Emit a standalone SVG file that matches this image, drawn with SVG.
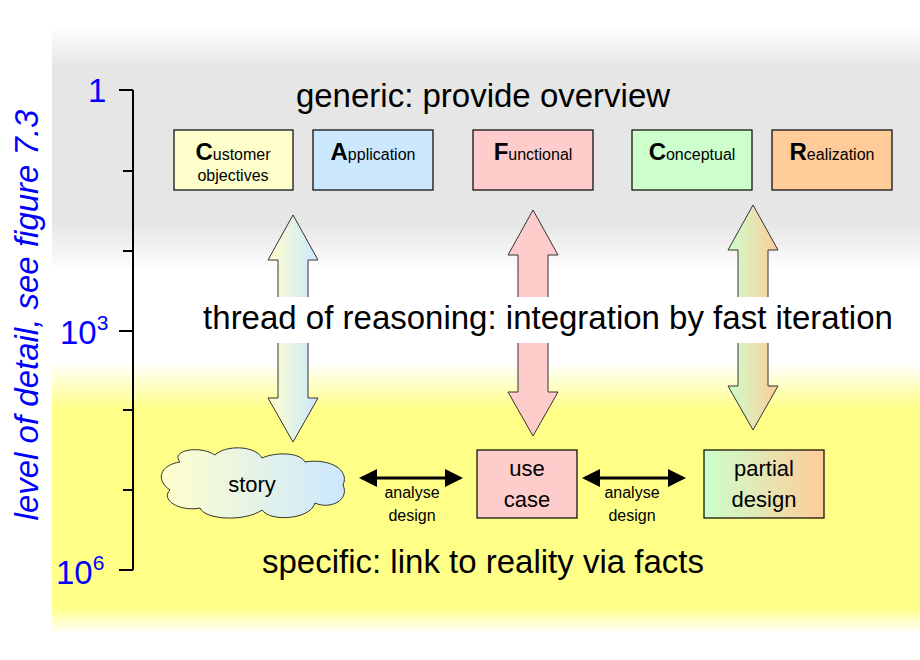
<svg xmlns="http://www.w3.org/2000/svg" width="920" height="660" viewBox="0 0 920 660">
<defs>
<linearGradient id="bgG" x1="0" y1="0" x2="0" y2="1">
<stop offset="0.04" stop-color="#fff"/><stop offset="0.1" stop-color="#e6e6e6"/><stop offset="0.34" stop-color="#e6e6e6"/><stop offset="0.41" stop-color="#fff"/>
<stop offset="0.55" stop-color="#fff"/><stop offset="0.62" stop-color="#ffff88"/><stop offset="0.92" stop-color="#ffff88"/><stop offset="0.96" stop-color="#fff"/>
</linearGradient>
<linearGradient id="g1" x1="0" x2="1"><stop offset="0" stop-color="#ffffcc"/><stop offset="1" stop-color="#cce8ff"/></linearGradient>
<linearGradient id="g3" x1="0" x2="1"><stop offset="0" stop-color="#ccffcc"/><stop offset="1" stop-color="#ffcc99"/></linearGradient>
<marker id="ah" markerWidth="6" markerHeight="6" refX="5" refY="3" orient="auto-start-reverse" markerUnits="strokeWidth"><path d="M0,0 L6,3 L0,6 z" fill="#000"/></marker>
<style>
text{font-family:"Liberation Sans",Arial,sans-serif}
.box{stroke:#000;stroke-width:1.2}
.big{font-size:33px}
.b{font-size:16px}
.cap{font-weight:bold;font-size:24px}
.va{stroke:#333;stroke-width:1}
.tk{stroke:#000;stroke-width:2}
.ax{fill:#0000ff;font-size:33px}
.m{font-size:22px}
</style>
</defs>
<rect x="52" y="0" width="868" height="660" fill="url(#bgG)"/>
<g id="axis">
<line class="tk" x1="133" y1="90" x2="133" y2="570"/>
<g class="tk"><line x1="119" y1="90" x2="133" y2="90"/><line x1="123" y1="171" x2="133" y2="171"/><line x1="123" y1="251" x2="133" y2="251"/><line x1="119" y1="331" x2="133" y2="331"/><line x1="123" y1="410" x2="133" y2="410"/><line x1="123" y1="490" x2="133" y2="490"/><line x1="119" y1="570" x2="133" y2="570"/></g>
<text class="ax" x="88" y="102">1</text>
<text class="ax" x="60" y="344">10<tspan font-size="21" dy="-14">3</tspan></text>
<text class="ax" x="56" y="584">10<tspan font-size="21" dy="-14">6</tspan></text>
<text transform="translate(38,315) rotate(-90)" text-anchor="middle" fill="#0000ff" font-size="33" font-style="italic">level of detail, see figure 7.3</text>
</g>
<text x="483" y="107" text-anchor="middle" class="big">generic: provide overview</text>
<text x="483" y="573" text-anchor="middle" class="big">specific: link to reality via facts</text>
<g id="arrows">
<path class="va" fill="url(#g1)" d="M293,215 L318,260 L308,260 L308,398 L318,398 L293,442 L268,398 L278,398 L278,260 L268,260 Z"/>
<path class="va" fill="#ffcccc" d="M533,210 L558,255 L548,255 L548,392 L558,392 L533,436 L508,392 L518,392 L518,255 L508,255 Z"/>
<path class="va" fill="url(#g3)" d="M753,205 L778,250 L768,250 L768,386 L778,386 L753,430 L728,386 L738,386 L738,250 L728,250 Z"/>
</g>
<rect x="190" y="297" width="715" height="46" fill="#fff"/>
<text x="548" y="329" text-anchor="middle" class="big">thread of reasoning: integration by fast iteration</text>
<g id="customer"><rect class="box" x="174" y="130" width="119" height="60" fill="#ffffcc"/><text x="233" y="160" text-anchor="middle" class="b"><tspan class="cap">C</tspan>ustomer</text><text x="233" y="181" text-anchor="middle" class="b">objectives</text></g>
<g id="application"><rect class="box" x="313" y="130" width="120" height="60" fill="#cce8ff"/><text x="373" y="160" text-anchor="middle" class="b"><tspan class="cap">A</tspan>pplication</text></g>
<g id="functional"><rect class="box" x="473" y="130" width="120" height="60" fill="#ffcccc"/><text x="533" y="160" text-anchor="middle" class="b"><tspan class="cap">F</tspan>unctional</text></g>
<g id="conceptual"><rect class="box" x="632" y="130" width="120" height="60" fill="#ccffcc"/><text x="692" y="160" text-anchor="middle" class="b"><tspan class="cap">C</tspan>onceptual</text></g>
<g id="realization"><rect class="box" x="772" y="130" width="120" height="60" fill="#ffcc99"/><text x="832" y="160" text-anchor="middle" class="b"><tspan class="cap">R</tspan>ealization</text></g>
<g id="story"><path class="va" fill="url(#g1)" d="M180,462 C170,450 200,445 215,455 C225,445 255,445 262,458 C275,452 300,452 305,462 C330,458 350,470 343,485 C350,500 330,510 315,503 C310,520 270,522 262,510 C245,522 205,520 200,508 C180,512 160,500 170,490 C155,480 160,465 180,462 Z"/><text x="252" y="492" text-anchor="middle" class="m">story</text></g>
<g id="usecase"><rect class="box" x="477" y="450" width="100" height="68" fill="#ffcccc"/><text x="527" y="476" text-anchor="middle" class="m">use</text><text x="527" y="507" text-anchor="middle" class="m">case</text></g>
<g id="partial"><rect class="box" x="704" y="450" width="120" height="68" fill="url(#g3)"/><text x="764" y="476" text-anchor="middle" class="m">partial</text><text x="764" y="507" text-anchor="middle" class="m">design</text></g>
<g id="connectors">
<line x1="362" y1="478" x2="460" y2="478" stroke="#000" stroke-width="3" marker-start="url(#ah)" marker-end="url(#ah)"/>
<line x1="585" y1="478" x2="683" y2="478" stroke="#000" stroke-width="3" marker-start="url(#ah)" marker-end="url(#ah)"/>
<text x="412" y="498" text-anchor="middle" class="b">analyse</text><text x="412" y="521" text-anchor="middle" class="b">design</text>
<text x="632" y="498" text-anchor="middle" class="b">analyse</text><text x="632" y="521" text-anchor="middle" class="b">design</text>
</g>
</svg>
